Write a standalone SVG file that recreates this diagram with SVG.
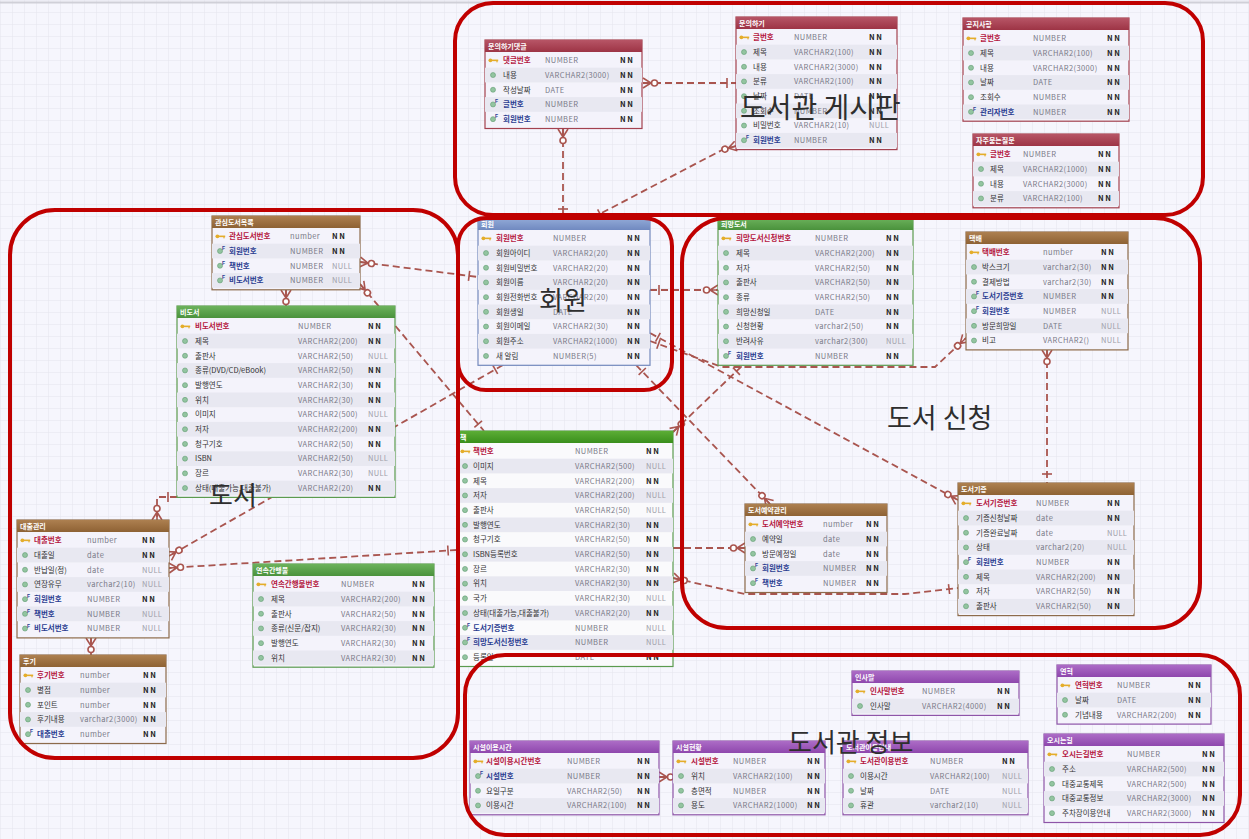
<svg xmlns="http://www.w3.org/2000/svg" xmlns:xlink="http://www.w3.org/1999/xlink" width="1249" height="839" viewBox="0 0 1249 839">
<style>
text{font-family:"Noto Sans CJK KR","Noto Sans",sans-serif;font-size:7.5px}
.h{fill:#fff;font-weight:bold;font-size:7px}
.pk{fill:#b5173f;font-weight:bold}
.fk{fill:#2b3d91;font-weight:bold}
.n{fill:#333}
.ty{fill:#7a7a88;letter-spacing:0.4px}
.nn{fill:#222;font-weight:bold}
.nl{fill:#a0a0aa;letter-spacing:0.3px}
.bd{fill:#f4f3fb;stroke-width:1.2}
.alt{fill:#e8e8f1}
.red{stroke:#a3414f}.brown{stroke:#8d6b4b}.green{stroke:#5b9b4f}.blue{stroke:#7389bd}.purple{stroke:#8e55a8}
.rg{fill:none;stroke:#c00000;stroke-width:4}
.lb{fill:#2e2e2e;font-size:28px}
.cn{fill:none;stroke:#a9554f;stroke-width:1.8;stroke-dasharray:7 4}
</style>
<defs>
<pattern id="grid" width="12" height="12" patternUnits="userSpaceOnUse"><path d="M12 0H0V12" fill="none" stroke="#e3e3ed" stroke-width="1"/></pattern>
<linearGradient id="gRed" x1="0" y1="0" x2="0" y2="1"><stop offset="0" stop-color="#b75566"/><stop offset="1" stop-color="#9d3445"/></linearGradient>
<linearGradient id="gBrown" x1="0" y1="0" x2="0" y2="1"><stop offset="0" stop-color="#ad8050"/><stop offset="1" stop-color="#8e6234"/></linearGradient>
<linearGradient id="gGreen" x1="0" y1="0" x2="0" y2="1"><stop offset="0" stop-color="#6cb25c"/><stop offset="1" stop-color="#4a923c"/></linearGradient>
<linearGradient id="gGreen2" x1="0" y1="0" x2="0" y2="1"><stop offset="0" stop-color="#5cad36"/><stop offset="1" stop-color="#3a8f1c"/></linearGradient>
<linearGradient id="gBlue" x1="0" y1="0" x2="0" y2="1"><stop offset="0" stop-color="#93abd8"/><stop offset="1" stop-color="#7089c0"/></linearGradient>
<linearGradient id="gPurple" x1="0" y1="0" x2="0" y2="1"><stop offset="0" stop-color="#ac6cc6"/><stop offset="1" stop-color="#8e47ad"/></linearGradient>
<g id="pk"><circle cx="-2.6" cy="0" r="1.9" fill="#e4ad2a"/><rect x="-1.2" y="-0.8" width="6.4" height="1.6" fill="#e4ad2a"/><rect x="3.4" y="0" width="1.2" height="2" fill="#e4ad2a"/></g>
<g id="co"><circle r="2.5" fill="#93c4a0" stroke="#629e72" stroke-width="0.6"/></g>
<g id="fk"><circle r="2.5" fill="#93c4a0" stroke="#629e72" stroke-width="0.6"/><text x="2" y="-1" style="font-size:5px;font-weight:bold;fill:#2b3d91;font-family:'Liberation Sans',sans-serif">F</text></g>
<marker id="mny" markerUnits="userSpaceOnUse" markerWidth="30" markerHeight="20" viewBox="-20 -10 30 20" refX="0" refY="0" orient="auto-start-reverse" overflow="visible"><path d="M0,-5L-8,0L0,5M0,0H-8" fill="none" stroke="#a9554f" stroke-width="1.6"/><circle cx="-11.5" cy="0" r="3" fill="#fff" stroke="#a9554f" stroke-width="1.6"/></marker>
<marker id="one" markerUnits="userSpaceOnUse" markerWidth="30" markerHeight="20" viewBox="-20 -10 30 20" refX="0" refY="0" orient="auto-start-reverse" overflow="visible"><path d="M-9,-5V5" fill="none" stroke="#a9554f" stroke-width="1.6"/></marker>
</defs>
<rect width="1249" height="839" fill="#f6f6fd"/>
<rect width="1249" height="839" fill="url(#grid)"/>
<line x1="0" y1="2.5" x2="1249" y2="2.5" stroke="#d0d0d8" stroke-width="2"/>

<g id="connectors">
<path class="cn" d="M643,83H736" marker-start="url(#mny)" marker-end="url(#one)"/>
<path class="cn" d="M563,129V218" marker-start="url(#mny)" marker-end="url(#one)"/>
<path class="cn" d="M736,146L722,150L592,218" marker-start="url(#mny)" marker-end="url(#one)"/>
<path class="cn" d="M360,262L478,277" marker-start="url(#mny)" marker-end="url(#one)"/>
<path class="cn" d="M360,284L484,431" marker-start="url(#mny)" marker-end="url(#one)"/>
<path class="cn" d="M286,290V306" marker-start="url(#mny)"/>
<path class="cn" d="M650,290H718" marker-start="url(#one)" marker-end="url(#mny)"/>
<path class="cn" d="M650,333L958,500" marker-start="url(#one)" marker-end="url(#mny)"/>
<path class="cn" d="M650,341L722,367H935L966,338" marker-start="url(#one)" marker-end="url(#mny)"/>
<path class="cn" d="M636,365L770,504" marker-start="url(#one)" marker-end="url(#mny)"/>
<path class="cn" d="M1047,350V483" marker-start="url(#mny)" marker-end="url(#one)"/>
<path class="cn" d="M673,432L743,365" marker-start="url(#mny)" marker-end="url(#one)"/>
<path class="cn" d="M673,548H745" marker-start="url(#one)" marker-end="url(#mny)"/>
<path class="cn" d="M673,578L745,594H905L958,588" marker-start="url(#mny)" marker-end="url(#one)"/>
<path class="cn" d="M457,550L169,568" marker-start="url(#one)" marker-end="url(#mny)"/>
<path class="cn" d="M503,365L169,556" marker-start="url(#one)" marker-end="url(#mny)"/>
<path class="cn" d="M177,497H157V520" marker-start="url(#one)" marker-end="url(#mny)"/>
<path class="cn" d="M91,638V655" marker-start="url(#mny)"/>
<path class="cn" d="M659,777H673" marker-start="url(#mny)"/>
</g>

<!-- 문의하기댓글 -->
<g id="t-qna-comment" transform="translate(485,40)">
<rect class="bd red" width="157" height="88.5"/><rect y="27.7" width="157" height="14.7" class="alt"/><rect y="57.1" width="157" height="14.7" class="alt"/>
<rect width="157" height="12" fill="url(#gRed)"/><text class="h" x="3" y="9">문의하기댓글</text>
<use href="#pk" x="8" y="20.35"/><text class="pk" x="18" y="23.1">댓글번호</text><text class="ty" x="60" y="23.1">NUMBER</text><text class="nn" x="135" y="23.1">N N</text>
<use href="#co" x="8" y="35.05"/><text class="n" x="18" y="37.8">내용</text><text class="ty" x="60" y="37.8">VARCHAR2(3000)</text><text class="nn" x="135" y="37.8">N N</text>
<use href="#co" x="8" y="49.75"/><text class="n" x="18" y="52.5">작성날짜</text><text class="ty" x="60" y="52.5">DATE</text><text class="nn" x="135" y="52.5">N N</text>
<use href="#fk" x="8" y="64.45"/><text class="fk" x="18" y="67.2">글번호</text><text class="ty" x="60" y="67.2">NUMBER</text><text class="nn" x="135" y="67.2">N N</text>
<use href="#fk" x="8" y="79.15"/><text class="fk" x="18" y="81.9">회원번호</text><text class="ty" x="60" y="81.9">NUMBER</text><text class="nn" x="135" y="81.9">N N</text>
</g>

<!-- 문의하기 -->
<g id="t-qna" transform="translate(736,17)">
<rect class="bd red" width="161" height="132.6"/><rect y="27.7" width="161" height="14.7" class="alt"/><rect y="57.1" width="161" height="14.7" class="alt"/><rect y="86.5" width="161" height="14.7" class="alt"/><rect y="115.9" width="161" height="14.7" class="alt"/>
<rect width="161" height="12" fill="url(#gRed)"/><text class="h" x="3" y="9">문의하기</text>
<use href="#pk" x="8" y="20.35"/><text class="pk" x="17" y="23.1">글번호</text><text class="ty" x="58" y="23.1">NUMBER</text><text class="nn" x="133" y="23.1">N N</text>
<use href="#co" x="8" y="35.05"/><text class="n" x="17" y="37.8">제목</text><text class="ty" x="58" y="37.8">VARCHAR2(100)</text><text class="nn" x="133" y="37.8">N N</text>
<use href="#co" x="8" y="49.75"/><text class="n" x="17" y="52.5">내용</text><text class="ty" x="58" y="52.5">VARCHAR2(3000)</text><text class="nn" x="133" y="52.5">N N</text>
<use href="#co" x="8" y="64.45"/><text class="n" x="17" y="67.2">분류</text><text class="ty" x="58" y="67.2">VARCHAR2(100)</text><text class="nn" x="133" y="67.2">N N</text>
<use href="#co" x="8" y="79.15"/><text class="n" x="17" y="81.9">날짜</text><text class="ty" x="58" y="81.9">DATE</text><text class="nn" x="133" y="81.9">N N</text>
<use href="#co" x="8" y="93.85"/><text class="n" x="17" y="96.6">조회수</text><text class="ty" x="58" y="96.6">NUMBER</text><text class="nn" x="133" y="96.6">N N</text>
<use href="#co" x="8" y="108.55"/><text class="n" x="17" y="111.3">비밀번호</text><text class="ty" x="58" y="111.3">VARCHAR2(10)</text><text class="nl" x="133" y="111.3">NULL</text>
<use href="#fk" x="8" y="123.25"/><text class="fk" x="17" y="126">회원번호</text><text class="ty" x="58" y="126">NUMBER</text><text class="nn" x="133" y="126">N N</text>
</g>

<!-- 공지사항 -->
<g id="t-notice" transform="translate(963,18)">
<rect class="bd red" width="166" height="103.2"/><rect y="27.7" width="166" height="14.7" class="alt"/><rect y="57.1" width="166" height="14.7" class="alt"/><rect y="86.5" width="166" height="14.7" class="alt"/>
<rect width="166" height="12" fill="url(#gRed)"/><text class="h" x="3" y="9">공지사항</text>
<use href="#pk" x="8" y="20.35"/><text class="pk" x="17" y="23.1">글번호</text><text class="ty" x="70" y="23.1">NUMBER</text><text class="nn" x="144" y="23.1">N N</text>
<use href="#co" x="8" y="35.05"/><text class="n" x="17" y="37.8">제목</text><text class="ty" x="70" y="37.8">VARCHAR2(100)</text><text class="nn" x="144" y="37.8">N N</text>
<use href="#co" x="8" y="49.75"/><text class="n" x="17" y="52.5">내용</text><text class="ty" x="70" y="52.5">VARCHAR2(3000)</text><text class="nn" x="144" y="52.5">N N</text>
<use href="#co" x="8" y="64.45"/><text class="n" x="17" y="67.2">날짜</text><text class="ty" x="70" y="67.2">DATE</text><text class="nn" x="144" y="67.2">N N</text>
<use href="#co" x="8" y="79.15"/><text class="n" x="17" y="81.9">조회수</text><text class="ty" x="70" y="81.9">NUMBER</text><text class="nn" x="144" y="81.9">N N</text>
<use href="#fk" x="8" y="93.85"/><text class="fk" x="17" y="96.6">관리자번호</text><text class="ty" x="70" y="96.6">NUMBER</text><text class="nn" x="144" y="96.6">N N</text>
</g>

<!-- 자주묻는질문 -->
<g id="t-faq" transform="translate(973,134)">
<rect class="bd red" width="146" height="73.8"/><rect y="27.7" width="146" height="14.7" class="alt"/><rect y="57.1" width="146" height="14.7" class="alt"/>
<rect width="146" height="12" fill="url(#gRed)"/><text class="h" x="3" y="9">자주묻는질문</text>
<use href="#pk" x="8" y="20.35"/><text class="pk" x="17" y="23.1">글번호</text><text class="ty" x="50" y="23.1">NUMBER</text><text class="nn" x="125" y="23.1">N N</text>
<use href="#co" x="8" y="35.05"/><text class="n" x="17" y="37.8">제목</text><text class="ty" x="50" y="37.8">VARCHAR2(1000)</text><text class="nn" x="125" y="37.8">N N</text>
<use href="#co" x="8" y="49.75"/><text class="n" x="17" y="52.5">내용</text><text class="ty" x="50" y="52.5">VARCHAR2(3000)</text><text class="nn" x="125" y="52.5">N N</text>
<use href="#co" x="8" y="64.45"/><text class="n" x="17" y="67.2">분류</text><text class="ty" x="50" y="67.2">VARCHAR2(100)</text><text class="nn" x="125" y="67.2">N N</text>
</g>

<!-- 관심도서목록 -->
<g id="t-wish" transform="translate(212,216)">
<rect class="bd brown" width="148" height="73.8"/><rect y="27.7" width="148" height="14.7" class="alt"/><rect y="57.1" width="148" height="14.7" class="alt"/>
<rect width="148" height="12" fill="url(#gBrown)"/><text class="h" x="3" y="9">관심도서목록</text>
<use href="#pk" x="8" y="20.35"/><text class="pk" x="17" y="23.1">관심도서번호</text><text class="ty" x="78" y="23.1">number</text><text class="nn" x="120" y="23.1">N N</text>
<use href="#fk" x="8" y="35.05"/><text class="fk" x="17" y="37.8">회원번호</text><text class="ty" x="78" y="37.8">NUMBER</text><text class="nn" x="120" y="37.8">N N</text>
<use href="#fk" x="8" y="49.75"/><text class="fk" x="17" y="52.5">책번호</text><text class="ty" x="78" y="52.5">NUMBER</text><text class="nl" x="120" y="52.5">NULL</text>
<use href="#fk" x="8" y="64.45"/><text class="fk" x="17" y="67.2">비도서번호</text><text class="ty" x="78" y="67.2">NUMBER</text><text class="nl" x="120" y="67.2">NULL</text>
</g>

<!-- 비도서 -->
<g id="t-nonbook" transform="translate(177,306)">
<rect class="bd green" width="218" height="191.4"/><rect y="27.7" width="218" height="14.7" class="alt"/><rect y="57.1" width="218" height="14.7" class="alt"/><rect y="86.5" width="218" height="14.7" class="alt"/><rect y="115.9" width="218" height="14.7" class="alt"/><rect y="145.3" width="218" height="14.7" class="alt"/><rect y="174.7" width="218" height="14.7" class="alt"/>
<rect width="218" height="12" fill="url(#gGreen)"/><text class="h" x="3" y="9">비도서</text>
<use href="#pk" x="8" y="20.35"/><text class="pk" x="18" y="23.1">비도서번호</text><text class="ty" x="121" y="23.1">NUMBER</text><text class="nn" x="191" y="23.1">N N</text>
<use href="#co" x="8" y="35.05"/><text class="n" x="18" y="37.8">제목</text><text class="ty" x="121" y="37.8">VARCHAR2(200)</text><text class="nn" x="191" y="37.8">N N</text>
<use href="#co" x="8" y="49.75"/><text class="n" x="18" y="52.5">출판사</text><text class="ty" x="121" y="52.5">VARCHAR2(50)</text><text class="nl" x="191" y="52.5">NULL</text>
<use href="#co" x="8" y="64.45"/><text class="n" x="18" y="67.2">종류(DVD/CD/eBook)</text><text class="ty" x="121" y="67.2">VARCHAR2(50)</text><text class="nn" x="191" y="67.2">N N</text>
<use href="#co" x="8" y="79.15"/><text class="n" x="18" y="81.9">발행연도</text><text class="ty" x="121" y="81.9">VARCHAR2(30)</text><text class="nn" x="191" y="81.9">N N</text>
<use href="#co" x="8" y="93.85"/><text class="n" x="18" y="96.6">위치</text><text class="ty" x="121" y="96.6">VARCHAR2(30)</text><text class="nn" x="191" y="96.6">N N</text>
<use href="#co" x="8" y="108.55"/><text class="n" x="18" y="111.3">이미지</text><text class="ty" x="121" y="111.3">VARCHAR2(500)</text><text class="nl" x="191" y="111.3">NULL</text>
<use href="#co" x="8" y="123.25"/><text class="n" x="18" y="126">저자</text><text class="ty" x="121" y="126">VARCHAR2(200)</text><text class="nn" x="191" y="126">N N</text>
<use href="#co" x="8" y="137.95"/><text class="n" x="18" y="140.7">청구기호</text><text class="ty" x="121" y="140.7">VARCHAR2(50)</text><text class="nn" x="191" y="140.7">N N</text>
<use href="#co" x="8" y="152.65"/><text class="n" x="18" y="155.4">ISBN</text><text class="ty" x="121" y="155.4">VARCHAR2(50)</text><text class="nl" x="191" y="155.4">NULL</text>
<use href="#co" x="8" y="167.35"/><text class="n" x="18" y="170.1">장르</text><text class="ty" x="121" y="170.1">VARCHAR2(30)</text><text class="nl" x="191" y="170.1">NULL</text>
<use href="#co" x="8" y="182.05"/><text class="n" x="18" y="184.8">상태(대출가능,대출불가)</text><text class="ty" x="121" y="184.8">VARCHAR2(20)</text><text class="nn" x="191" y="184.8">N N</text>
</g>

<!-- 회원 -->
<g id="t-member" transform="translate(478,218)">
<rect class="bd blue" width="172" height="147.3"/><rect y="27.7" width="172" height="14.7" class="alt"/><rect y="57.1" width="172" height="14.7" class="alt"/><rect y="86.5" width="172" height="14.7" class="alt"/><rect y="115.9" width="172" height="14.7" class="alt"/>
<rect width="172" height="12" fill="url(#gBlue)"/><text class="h" x="3" y="9">회원</text>
<use href="#pk" x="8" y="20.35"/><text class="pk" x="18" y="23.1">회원번호</text><text class="ty" x="75" y="23.1">NUMBER</text><text class="nn" x="149" y="23.1">N N</text>
<use href="#co" x="8" y="35.05"/><text class="n" x="18" y="37.8">회원아이디</text><text class="ty" x="75" y="37.8">VARCHAR2(20)</text><text class="nn" x="149" y="37.8">N N</text>
<use href="#co" x="8" y="49.75"/><text class="n" x="18" y="52.5">회원비밀번호</text><text class="ty" x="75" y="52.5">VARCHAR2(20)</text><text class="nn" x="149" y="52.5">N N</text>
<use href="#co" x="8" y="64.45"/><text class="n" x="18" y="67.2">회원이름</text><text class="ty" x="75" y="67.2">VARCHAR2(20)</text><text class="nn" x="149" y="67.2">N N</text>
<use href="#co" x="8" y="79.15"/><text class="n" x="18" y="81.9">회원전화번호</text><text class="ty" x="75" y="81.9">VARCHAR2(20)</text><text class="nn" x="149" y="81.9">N N</text>
<use href="#co" x="8" y="93.85"/><text class="n" x="18" y="96.6">회원생일</text><text class="ty" x="75" y="96.6">DATE</text><text class="nn" x="149" y="96.6">N N</text>
<use href="#co" x="8" y="108.55"/><text class="n" x="18" y="111.3">회원이메일</text><text class="ty" x="75" y="111.3">VARCHAR2(30)</text><text class="nn" x="149" y="111.3">N N</text>
<use href="#co" x="8" y="123.25"/><text class="n" x="18" y="126">회원주소</text><text class="ty" x="75" y="126">VARCHAR2(1000)</text><text class="nn" x="149" y="126">N N</text>
<use href="#co" x="8" y="137.95"/><text class="n" x="18" y="140.7">새 알림</text><text class="ty" x="75" y="140.7">NUMBER(5)</text><text class="nn" x="149" y="140.7">N N</text>
</g>

<!-- 희망도서 -->
<g id="t-hope" transform="translate(718,218)">
<rect class="bd green" width="195" height="147.3"/><rect y="27.7" width="195" height="14.7" class="alt"/><rect y="57.1" width="195" height="14.7" class="alt"/><rect y="86.5" width="195" height="14.7" class="alt"/><rect y="115.9" width="195" height="14.7" class="alt"/>
<rect width="195" height="12" fill="url(#gGreen)"/><text class="h" x="3" y="9">희망도서</text>
<use href="#pk" x="8" y="20.35"/><text class="pk" x="18" y="23.1">희망도서신청번호</text><text class="ty" x="97" y="23.1">NUMBER</text><text class="nn" x="168" y="23.1">N N</text>
<use href="#co" x="8" y="35.05"/><text class="n" x="18" y="37.8">제목</text><text class="ty" x="97" y="37.8">VARCHAR2(200)</text><text class="nn" x="168" y="37.8">N N</text>
<use href="#co" x="8" y="49.75"/><text class="n" x="18" y="52.5">저자</text><text class="ty" x="97" y="52.5">VARCHAR2(50)</text><text class="nn" x="168" y="52.5">N N</text>
<use href="#co" x="8" y="64.45"/><text class="n" x="18" y="67.2">출판사</text><text class="ty" x="97" y="67.2">VARCHAR2(50)</text><text class="nn" x="168" y="67.2">N N</text>
<use href="#co" x="8" y="79.15"/><text class="n" x="18" y="81.9">종류</text><text class="ty" x="97" y="81.9">VARCHAR2(50)</text><text class="nn" x="168" y="81.9">N N</text>
<use href="#co" x="8" y="93.85"/><text class="n" x="18" y="96.6">희망신청일</text><text class="ty" x="97" y="96.6">DATE</text><text class="nn" x="168" y="96.6">N N</text>
<use href="#co" x="8" y="108.55"/><text class="n" x="18" y="111.3">신청현황</text><text class="ty" x="97" y="111.3">varchar2(50)</text><text class="nn" x="168" y="111.3">N N</text>
<use href="#co" x="8" y="123.25"/><text class="n" x="18" y="126">반려사유</text><text class="ty" x="97" y="126">varchar2(300)</text><text class="nl" x="168" y="126">NULL</text>
<use href="#fk" x="8" y="137.95"/><text class="fk" x="18" y="140.7">회원번호</text><text class="ty" x="97" y="140.7">NUMBER</text><text class="nn" x="168" y="140.7">N N</text>
</g>

<!-- 택배 -->
<g id="t-parcel" transform="translate(966,232)">
<rect class="bd brown" width="162" height="117.9"/><rect y="27.7" width="162" height="14.7" class="alt"/><rect y="57.1" width="162" height="14.7" class="alt"/><rect y="86.5" width="162" height="14.7" class="alt"/>
<rect width="162" height="12" fill="url(#gBrown)"/><text class="h" x="3" y="9">택배</text>
<use href="#pk" x="8" y="20.35"/><text class="pk" x="16" y="23.1">택배번호</text><text class="ty" x="77" y="23.1">number</text><text class="nn" x="135" y="23.1">N N</text>
<use href="#co" x="8" y="35.05"/><text class="n" x="16" y="37.8">박스크기</text><text class="ty" x="77" y="37.8">varchar2(30)</text><text class="nn" x="135" y="37.8">N N</text>
<use href="#co" x="8" y="49.75"/><text class="n" x="16" y="52.5">결제방법</text><text class="ty" x="77" y="52.5">varchar2(30)</text><text class="nn" x="135" y="52.5">N N</text>
<use href="#fk" x="8" y="64.45"/><text class="fk" x="16" y="67.2">도서기증번호</text><text class="ty" x="77" y="67.2">NUMBER</text><text class="nn" x="135" y="67.2">N N</text>
<use href="#fk" x="8" y="79.15"/><text class="fk" x="16" y="81.9">회원번호</text><text class="ty" x="77" y="81.9">NUMBER</text><text class="nl" x="135" y="81.9">NULL</text>
<use href="#co" x="8" y="93.85"/><text class="n" x="16" y="96.6">방문희망일</text><text class="ty" x="77" y="96.6">DATE</text><text class="nl" x="135" y="96.6">NULL</text>
<use href="#co" x="8" y="108.55"/><text class="n" x="16" y="111.3">비고</text><text class="ty" x="77" y="111.3">VARCHAR2()</text><text class="nl" x="135" y="111.3">NULL</text>
</g>

<!-- 도서기증 -->
<g id="t-donation" transform="translate(958,483)">
<rect class="bd brown" width="176" height="132.6"/><rect y="27.7" width="176" height="14.7" class="alt"/><rect y="57.1" width="176" height="14.7" class="alt"/><rect y="86.5" width="176" height="14.7" class="alt"/><rect y="115.9" width="176" height="14.7" class="alt"/>
<rect width="176" height="12" fill="url(#gBrown)"/><text class="h" x="3" y="9">도서기증</text>
<use href="#pk" x="8" y="20.35"/><text class="pk" x="18" y="23.1">도서기증번호</text><text class="ty" x="78" y="23.1">NUMBER</text><text class="nn" x="149" y="23.1">N N</text>
<use href="#co" x="8" y="35.05"/><text class="n" x="18" y="37.8">기증신청날짜</text><text class="ty" x="78" y="37.8">date</text><text class="nn" x="149" y="37.8">N N</text>
<use href="#co" x="8" y="49.75"/><text class="n" x="18" y="52.5">기증완료날짜</text><text class="ty" x="78" y="52.5">date</text><text class="nl" x="149" y="52.5">NULL</text>
<use href="#co" x="8" y="64.45"/><text class="n" x="18" y="67.2">상태</text><text class="ty" x="78" y="67.2">varchar2(20)</text><text class="nl" x="149" y="67.2">NULL</text>
<use href="#fk" x="8" y="79.15"/><text class="fk" x="18" y="81.9">회원번호</text><text class="ty" x="78" y="81.9">NUMBER</text><text class="nn" x="149" y="81.9">N N</text>
<use href="#co" x="8" y="93.85"/><text class="n" x="18" y="96.6">제목</text><text class="ty" x="78" y="96.6">VARCHAR2(200)</text><text class="nn" x="149" y="96.6">N N</text>
<use href="#co" x="8" y="108.55"/><text class="n" x="18" y="111.3">저자</text><text class="ty" x="78" y="111.3">VARCHAR2(50)</text><text class="nn" x="149" y="111.3">N N</text>
<use href="#co" x="8" y="123.25"/><text class="n" x="18" y="126">출판사</text><text class="ty" x="78" y="126">VARCHAR2(50)</text><text class="nn" x="149" y="126">N N</text>
</g>

<!-- 책 -->
<g id="t-book" transform="translate(457,431)">
<rect class="bd green" width="216" height="235.5" style="fill:#fafafc"/><rect y="27.7" width="216" height="14.7" class="alt"/><rect y="57.1" width="216" height="14.7" class="alt"/><rect y="86.5" width="216" height="14.7" class="alt"/><rect y="115.9" width="216" height="14.7" class="alt"/><rect y="145.3" width="216" height="14.7" class="alt"/><rect y="174.7" width="216" height="14.7" class="alt"/><rect y="204.1" width="216" height="14.7" class="alt"/>
<rect width="216" height="12" fill="url(#gGreen2)"/><text class="h" x="3" y="9">책</text>
<use href="#pk" x="8" y="20.35"/><text class="pk" x="16" y="23.1">책번호</text><text class="ty" x="118" y="23.1">NUMBER</text><text class="nn" x="189" y="23.1">N N</text>
<use href="#co" x="8" y="35.05"/><text class="n" x="16" y="37.8">이미지</text><text class="ty" x="118" y="37.8">VARCHAR2(500)</text><text class="nl" x="189" y="37.8">NULL</text>
<use href="#co" x="8" y="49.75"/><text class="n" x="16" y="52.5">제목</text><text class="ty" x="118" y="52.5">VARCHAR2(200)</text><text class="nn" x="189" y="52.5">N N</text>
<use href="#co" x="8" y="64.45"/><text class="n" x="16" y="67.2">저자</text><text class="ty" x="118" y="67.2">VARCHAR2(200)</text><text class="nl" x="189" y="67.2">NULL</text>
<use href="#co" x="8" y="79.15"/><text class="n" x="16" y="81.9">출판사</text><text class="ty" x="118" y="81.9">VARCHAR2(50)</text><text class="nl" x="189" y="81.9">NULL</text>
<use href="#co" x="8" y="93.85"/><text class="n" x="16" y="96.6">발행연도</text><text class="ty" x="118" y="96.6">VARCHAR2(30)</text><text class="nn" x="189" y="96.6">N N</text>
<use href="#co" x="8" y="108.55"/><text class="n" x="16" y="111.3">청구기호</text><text class="ty" x="118" y="111.3">VARCHAR2(50)</text><text class="nn" x="189" y="111.3">N N</text>
<use href="#co" x="8" y="123.25"/><text class="n" x="16" y="126">ISBN등록번호</text><text class="ty" x="118" y="126">VARCHAR2(50)</text><text class="nn" x="189" y="126">N N</text>
<use href="#co" x="8" y="137.95"/><text class="n" x="16" y="140.7">장르</text><text class="ty" x="118" y="140.7">VARCHAR2(30)</text><text class="nn" x="189" y="140.7">N N</text>
<use href="#co" x="8" y="152.65"/><text class="n" x="16" y="155.4">위치</text><text class="ty" x="118" y="155.4">VARCHAR2(30)</text><text class="nn" x="189" y="155.4">N N</text>
<use href="#co" x="8" y="167.35"/><text class="n" x="16" y="170.1">국가</text><text class="ty" x="118" y="170.1">VARCHAR2(30)</text><text class="nl" x="189" y="170.1">NULL</text>
<use href="#co" x="8" y="182.05"/><text class="n" x="16" y="184.8">상태(대출가능,대출불가)</text><text class="ty" x="118" y="184.8">VARCHAR2(20)</text><text class="nn" x="189" y="184.8">N N</text>
<use href="#fk" x="8" y="196.75"/><text class="fk" x="16" y="199.5">도서기증번호</text><text class="ty" x="118" y="199.5">NUMBER</text><text class="nl" x="189" y="199.5">NULL</text>
<use href="#fk" x="8" y="211.45"/><text class="fk" x="16" y="214.2">희망도서신청번호</text><text class="ty" x="118" y="214.2">NUMBER</text><text class="nl" x="189" y="214.2">NULL</text>
<use href="#co" x="8" y="226.15"/><text class="n" x="16" y="228.9">등록일</text><text class="ty" x="118" y="228.9">DATE</text><text class="nn" x="189" y="228.9">N N</text>
</g>

<!-- 도서예약관리 -->
<g id="t-reserve" transform="translate(745,504)">
<rect class="bd brown" width="142" height="88.5"/><rect y="27.7" width="142" height="14.7" class="alt"/><rect y="57.1" width="142" height="14.7" class="alt"/>
<rect width="142" height="12" fill="url(#gBrown)"/><text class="h" x="3" y="9">도서예약관리</text>
<use href="#pk" x="8" y="20.35"/><text class="pk" x="17" y="23.1">도서예약번호</text><text class="ty" x="78" y="23.1">number</text><text class="nn" x="121" y="23.1">N N</text>
<use href="#co" x="8" y="35.05"/><text class="n" x="17" y="37.8">예약일</text><text class="ty" x="78" y="37.8">date</text><text class="nn" x="121" y="37.8">N N</text>
<use href="#co" x="8" y="49.75"/><text class="n" x="17" y="52.5">방문예정일</text><text class="ty" x="78" y="52.5">date</text><text class="nn" x="121" y="52.5">N N</text>
<use href="#fk" x="8" y="64.45"/><text class="fk" x="17" y="67.2">회원번호</text><text class="ty" x="78" y="67.2">NUMBER</text><text class="nn" x="121" y="67.2">N N</text>
<use href="#fk" x="8" y="79.15"/><text class="fk" x="17" y="81.9">책번호</text><text class="ty" x="78" y="81.9">NUMBER</text><text class="nn" x="121" y="81.9">N N</text>
</g>

<!-- 대출관리 -->
<g id="t-loan" transform="translate(17,520)">
<rect class="bd brown" width="152" height="117.9"/><rect y="27.7" width="152" height="14.7" class="alt"/><rect y="57.1" width="152" height="14.7" class="alt"/><rect y="86.5" width="152" height="14.7" class="alt"/>
<rect width="152" height="12" fill="url(#gBrown)"/><text class="h" x="3" y="9">대출관리</text>
<use href="#pk" x="8" y="20.35"/><text class="pk" x="17" y="23.1">대출번호</text><text class="ty" x="70" y="23.1">number</text><text class="nn" x="125" y="23.1">N N</text>
<use href="#co" x="8" y="35.05"/><text class="n" x="17" y="37.8">대출일</text><text class="ty" x="70" y="37.8">date</text><text class="nn" x="125" y="37.8">N N</text>
<use href="#co" x="8" y="49.75"/><text class="n" x="17" y="52.5">반납일(정)</text><text class="ty" x="70" y="52.5">date</text><text class="nl" x="125" y="52.5">NULL</text>
<use href="#co" x="8" y="64.45"/><text class="n" x="17" y="67.2">연장유무</text><text class="ty" x="70" y="67.2">varchar2(10)</text><text class="nl" x="125" y="67.2">NULL</text>
<use href="#fk" x="8" y="79.15"/><text class="fk" x="17" y="81.9">회원번호</text><text class="ty" x="70" y="81.9">NUMBER</text><text class="nn" x="125" y="81.9">N N</text>
<use href="#fk" x="8" y="93.85"/><text class="fk" x="17" y="96.6">책번호</text><text class="ty" x="70" y="96.6">NUMBER</text><text class="nl" x="125" y="96.6">NULL</text>
<use href="#fk" x="8" y="108.55"/><text class="fk" x="17" y="111.3">비도서번호</text><text class="ty" x="70" y="111.3">NUMBER</text><text class="nl" x="125" y="111.3">NULL</text>
</g>

<!-- 후기 -->
<g id="t-review" transform="translate(20,655)">
<rect class="bd brown" width="146" height="88.5"/><rect y="27.7" width="146" height="14.7" class="alt"/><rect y="57.1" width="146" height="14.7" class="alt"/>
<rect width="146" height="12" fill="url(#gBrown)"/><text class="h" x="3" y="9">후기</text>
<use href="#pk" x="8" y="20.35"/><text class="pk" x="17" y="23.1">후기번호</text><text class="ty" x="60" y="23.1">number</text><text class="nn" x="123" y="23.1">N N</text>
<use href="#co" x="8" y="35.05"/><text class="n" x="17" y="37.8">별점</text><text class="ty" x="60" y="37.8">number</text><text class="nn" x="123" y="37.8">N N</text>
<use href="#co" x="8" y="49.75"/><text class="n" x="17" y="52.5">포인트</text><text class="ty" x="60" y="52.5">number</text><text class="nn" x="123" y="52.5">N N</text>
<use href="#co" x="8" y="64.45"/><text class="n" x="17" y="67.2">후기내용</text><text class="ty" x="60" y="67.2">varchar2(3000)</text><text class="nn" x="123" y="67.2">N N</text>
<use href="#fk" x="8" y="79.15"/><text class="fk" x="17" y="81.9">대출번호</text><text class="ty" x="60" y="81.9">number</text><text class="nn" x="123" y="81.9">N N</text>
</g>

<!-- 연속간행물 -->
<g id="t-serial" transform="translate(253,564)">
<rect class="bd green" width="181" height="103.2"/><rect y="27.7" width="181" height="14.7" class="alt"/><rect y="57.1" width="181" height="14.7" class="alt"/><rect y="86.5" width="181" height="14.7" class="alt"/>
<rect width="181" height="12" fill="url(#gGreen)"/><text class="h" x="3" y="9">연속간행물</text>
<use href="#pk" x="8" y="20.35"/><text class="pk" x="18" y="23.1">연속간행물번호</text><text class="ty" x="88" y="23.1">NUMBER</text><text class="nn" x="159" y="23.1">N N</text>
<use href="#co" x="8" y="35.05"/><text class="n" x="18" y="37.8">제목</text><text class="ty" x="88" y="37.8">VARCHAR2(200)</text><text class="nn" x="159" y="37.8">N N</text>
<use href="#co" x="8" y="49.75"/><text class="n" x="18" y="52.5">출판사</text><text class="ty" x="88" y="52.5">VARCHAR2(50)</text><text class="nn" x="159" y="52.5">N N</text>
<use href="#co" x="8" y="64.45"/><text class="n" x="18" y="67.2">종류(신문/잡지)</text><text class="ty" x="88" y="67.2">VARCHAR2(30)</text><text class="nn" x="159" y="67.2">N N</text>
<use href="#co" x="8" y="79.15"/><text class="n" x="18" y="81.9">발행연도</text><text class="ty" x="88" y="81.9">VARCHAR2(30)</text><text class="nn" x="159" y="81.9">N N</text>
<use href="#co" x="8" y="93.85"/><text class="n" x="18" y="96.6">위치</text><text class="ty" x="88" y="96.6">VARCHAR2(30)</text><text class="nn" x="159" y="96.6">N N</text>
</g>

<!-- 인사말 -->
<g id="t-greeting" transform="translate(852,671)">
<rect class="bd purple" width="167" height="44.4"/><rect y="27.7" width="167" height="14.7" class="alt"/>
<rect width="167" height="12" fill="url(#gPurple)"/><text class="h" x="3" y="9">인사말</text>
<use href="#pk" x="8" y="20.35"/><text class="pk" x="18" y="23.1">인사말번호</text><text class="ty" x="70" y="23.1">NUMBER</text><text class="nn" x="145" y="23.1">N N</text>
<use href="#co" x="8" y="35.05"/><text class="n" x="18" y="37.8">인사말</text><text class="ty" x="70" y="37.8">VARCHAR2(4000)</text><text class="nn" x="145" y="37.8">N N</text>
</g>

<!-- 연혁 -->
<g id="t-history" transform="translate(1057,665)">
<rect class="bd purple" width="154" height="59.1"/><rect y="27.7" width="154" height="14.7" class="alt"/>
<rect width="154" height="12" fill="url(#gPurple)"/><text class="h" x="3" y="9">연혁</text>
<use href="#pk" x="8" y="20.35"/><text class="pk" x="18" y="23.1">연혁번호</text><text class="ty" x="60" y="23.1">NUMBER</text><text class="nn" x="131" y="23.1">N N</text>
<use href="#co" x="8" y="35.05"/><text class="n" x="18" y="37.8">날짜</text><text class="ty" x="60" y="37.8">DATE</text><text class="nn" x="131" y="37.8">N N</text>
<use href="#co" x="8" y="49.75"/><text class="n" x="18" y="52.5">기념내용</text><text class="ty" x="60" y="52.5">VARCHAR2(200)</text><text class="nn" x="131" y="52.5">N N</text>
</g>

<!-- 시설이용시간 -->
<g id="t-facility-time" transform="translate(470,741)">
<rect class="bd purple" width="189" height="73.8"/><rect y="27.7" width="189" height="14.7" class="alt"/><rect y="57.1" width="189" height="14.7" class="alt"/>
<rect width="189" height="12" fill="url(#gPurple)"/><text class="h" x="3" y="9">시설이용시간</text>
<use href="#pk" x="8" y="20.35"/><text class="pk" x="16" y="23.1">시설이용시간번호</text><text class="ty" x="97" y="23.1">NUMBER</text><text class="nn" x="167" y="23.1">N N</text>
<use href="#fk" x="8" y="35.05"/><text class="fk" x="16" y="37.8">시설번호</text><text class="ty" x="97" y="37.8">NUMBER</text><text class="nn" x="167" y="37.8">N N</text>
<use href="#co" x="8" y="49.75"/><text class="n" x="16" y="52.5">요일구분</text><text class="ty" x="97" y="52.5">VARCHAR2(50)</text><text class="nn" x="167" y="52.5">N N</text>
<use href="#co" x="8" y="64.45"/><text class="n" x="16" y="67.2">이용시간</text><text class="ty" x="97" y="67.2">VARCHAR2(100)</text><text class="nn" x="167" y="67.2">N N</text>
</g>

<!-- 시설현황 -->
<g id="t-facility" transform="translate(673,741)">
<rect class="bd purple" width="152" height="73.8"/><rect y="27.7" width="152" height="14.7" class="alt"/><rect y="57.1" width="152" height="14.7" class="alt"/>
<rect width="152" height="12" fill="url(#gPurple)"/><text class="h" x="3" y="9">시설현황</text>
<use href="#pk" x="8" y="20.35"/><text class="pk" x="18" y="23.1">시설번호</text><text class="ty" x="60" y="23.1">NUMBER</text><text class="nn" x="134" y="23.1">N N</text>
<use href="#co" x="8" y="35.05"/><text class="n" x="18" y="37.8">위치</text><text class="ty" x="60" y="37.8">VARCHAR2(100)</text><text class="nn" x="134" y="37.8">N N</text>
<use href="#co" x="8" y="49.75"/><text class="n" x="18" y="52.5">층면적</text><text class="ty" x="60" y="52.5">NUMBER</text><text class="nn" x="134" y="52.5">N N</text>
<use href="#co" x="8" y="64.45"/><text class="n" x="18" y="67.2">용도</text><text class="ty" x="60" y="67.2">VARCHAR2(1000)</text><text class="nn" x="134" y="67.2">N N</text>
</g>

<!-- 도서관이용안내 -->
<g id="t-usage" transform="translate(843,741)">
<rect class="bd purple" width="185" height="73.8"/><rect y="27.7" width="185" height="14.7" class="alt"/><rect y="57.1" width="185" height="14.7" class="alt"/>
<rect width="185" height="12" fill="url(#gPurple)"/><text class="h" x="3" y="9">도서관이용안내</text>
<use href="#pk" x="8" y="20.35"/><text class="pk" x="17" y="23.1">도서관이용번호</text><text class="ty" x="87" y="23.1">NUMBER</text><text class="nn" x="159" y="23.1">N N</text>
<use href="#co" x="8" y="35.05"/><text class="n" x="17" y="37.8">이용시간</text><text class="ty" x="87" y="37.8">VARCHAR2(100)</text><text class="nl" x="159" y="37.8">NULL</text>
<use href="#co" x="8" y="49.75"/><text class="n" x="17" y="52.5">날짜</text><text class="ty" x="87" y="52.5">DATE</text><text class="nl" x="159" y="52.5">NULL</text>
<use href="#co" x="8" y="64.45"/><text class="n" x="17" y="67.2">휴관</text><text class="ty" x="87" y="67.2">varchar2(10)</text><text class="nl" x="159" y="67.2">NULL</text>
</g>

<!-- 오시는길 -->
<g id="t-directions" transform="translate(1044,734)">
<rect class="bd purple" width="180" height="88.5"/><rect y="27.7" width="180" height="14.7" class="alt"/><rect y="57.1" width="180" height="14.7" class="alt"/>
<rect width="180" height="12" fill="url(#gPurple)"/><text class="h" x="3" y="9">오시는길</text>
<use href="#pk" x="8" y="20.35"/><text class="pk" x="18" y="23.1">오시는길번호</text><text class="ty" x="83" y="23.1">NUMBER</text><text class="nn" x="158" y="23.1">N N</text>
<use href="#co" x="8" y="35.05"/><text class="n" x="18" y="37.8">주소</text><text class="ty" x="83" y="37.8">VARCHAR2(500)</text><text class="nn" x="158" y="37.8">N N</text>
<use href="#co" x="8" y="49.75"/><text class="n" x="18" y="52.5">대중교통제목</text><text class="ty" x="83" y="52.5">VARCHAR2(500)</text><text class="nn" x="158" y="52.5">N N</text>
<use href="#co" x="8" y="64.45"/><text class="n" x="18" y="67.2">대중교통정보</text><text class="ty" x="83" y="67.2">VARCHAR2(3000)</text><text class="nn" x="158" y="67.2">N N</text>
<use href="#co" x="8" y="79.15"/><text class="n" x="18" y="81.9">주차장이용안내</text><text class="ty" x="83" y="81.9">VARCHAR2(3000)</text><text class="nn" x="158" y="81.9">N N</text>
</g>

<g id="regions">
<rect class="rg" x="455" y="3" width="748" height="212" rx="38"/>
<rect class="rg" x="10" y="210" width="448" height="548" rx="45"/>
<rect class="rg" x="458" y="218" width="214" height="172" rx="28"/>
<rect class="rg" x="682" y="218" width="518" height="410" rx="45"/>
<rect class="rg" x="465" y="655" width="775" height="180" rx="40"/>
</g>
<g id="labels">
<text class="lb" x="740" y="118">도서관 게시판</text>
<text class="lb" x="539" y="310" style="font-size:26px">회원</text>
<text class="lb" x="887" y="428" style="font-size:27px">도서 신청</text>
<text class="lb" x="209" y="505" style="font-size:26px">도서</text>
<text class="lb" x="788" y="752" style="font-size:26px">도서관 정보</text>
</g>
</svg>
